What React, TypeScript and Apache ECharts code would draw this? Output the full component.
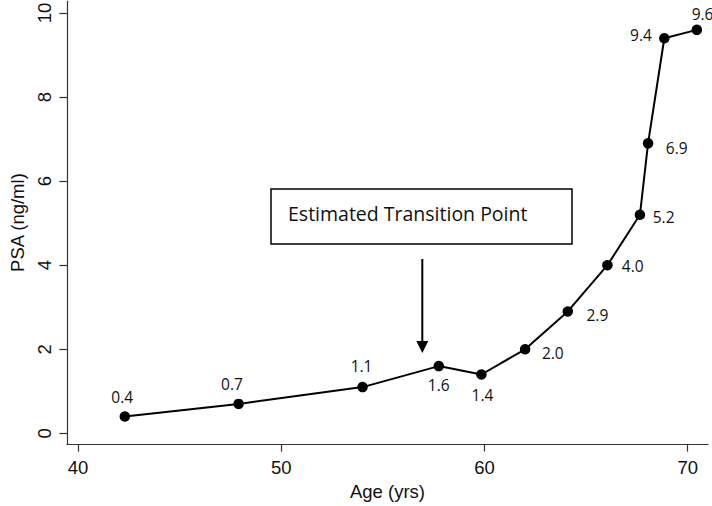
import React, { useEffect, useRef } from "react";
import * as echarts from "echarts";

const ages = [42.3, 47.9, 54.0, 57.75, 59.85, 62.0, 64.1, 66.05, 67.65, 68.05, 68.85, 70.45];
const psa = [0.4, 0.7, 1.1, 1.6, 1.4, 2.0, 2.9, 4.0, 5.2, 6.9, 9.4, 9.6];
const xTicks = [40, 50, 60, 70];
const yTicks = [0, 2, 4, 6, 8, 10];
const annotationText = "Estimated Transition Point";
const xName = "Age (yrs)";
const yName = "PSA (ng/ml)";

// label offsets (px) from each point's centre (style only)
const labelOffsets = [
  [-2.6, -20], [-6.7, -20], [-1, -20.7], [0, 19], [1, 20.4], [27.7, 3.3],
  [29.6, 4], [25.3, 1], [23.7, 2.7], [28.7, 5], [-23.3, -3.3], [5.7, -15.7],
];

export default function App() {
  const ref = useRef<HTMLDivElement>(null);
  useEffect(() => {
    if (!ref.current) return;
    const chart = echarts.init(ref.current, undefined, { renderer: "svg" });
    const data = ages.map((a, i) => ({
      value: [a, psa[i]],
      label: { position: "inside", offset: labelOffsets[i] },
    }));
    const axisFont = { fontFamily: "Liberation Sans", fontSize: 18.5, color: "#111" };
    chart.setOption({
      animation: false,
      backgroundColor: "#fff",
      grid: { left: 51, right: 4, top: 0, bottom: 52.7, containLabel: false },
      xAxis: {
        type: "value",
        min: 39.45,
        max: 71.0,
        name: xName,
        nameLocation: "middle",
        nameGap: 31,
        nameTextStyle: axisFont,
        axisLine: { show: true, onZero: false, lineStyle: { color: "#333", width: 1.2 } },
        axisTick: { show: true, length: 7.5, customValues: xTicks, lineStyle: { color: "#333", width: 1.2 } },
        axisLabel: { customValues: xTicks, margin: 14, ...axisFont },
        splitLine: { show: false },
      },
      yAxis: {
        type: "value",
        min: -0.256,
        max: 10.286,
        name: yName,
        nameLocation: "middle",
        nameGap: 38,
        nameRotate: 90,
        nameTextStyle: axisFont,
        axisLine: { show: true, onZero: false, lineStyle: { color: "#333", width: 1.2 } },
        axisTick: { show: true, length: 7.5, customValues: yTicks, lineStyle: { color: "#333", width: 1.2 } },
        axisLabel: { customValues: yTicks, rotate: 90, margin: 13, ...axisFont },
        splitLine: { show: false },
      },
      series: [
        {
          type: "line",
          data,
          symbol: "circle",
          symbolSize: 10.5,
          itemStyle: { color: "#000" },
          lineStyle: { color: "#000", width: 2 },
          label: {
            show: true,
            fontFamily: "Open Sans",
            fontSize: 15.5,
            color: "#111",
            formatter: (p: any) => Number(p.value[1]).toFixed(1),
          },
          z: 3,
        },
      ],
      graphic: [
        {
          type: "rect",
          shape: { x: 271, y: 189, width: 301, height: 55 },
          style: { fill: "#fff", stroke: "#000", lineWidth: 1.5 },
        },
        {
          type: "text",
          x: 288,
          y: 213,
          style: { text: annotationText, fontFamily: "Open Sans", fontSize: 19.5, fill: "#111", textVerticalAlign: "middle", textAlign: "left" },
        },
        {
          type: "line",
          shape: { x1: 422.3, y1: 259, x2: 422.3, y2: 343 },
          style: { stroke: "#000", lineWidth: 2 },
        },
        {
          type: "polygon",
          shape: { points: [[416.3, 341], [428.3, 341], [422.3, 353]] },
          style: { fill: "#000" },
        },
      ],
    });
    return () => chart.dispose();
  }, []);
  return <div ref={ref} style={{ width: 712, height: 506, position: "absolute", left: 0, top: 0 }} />;
}
